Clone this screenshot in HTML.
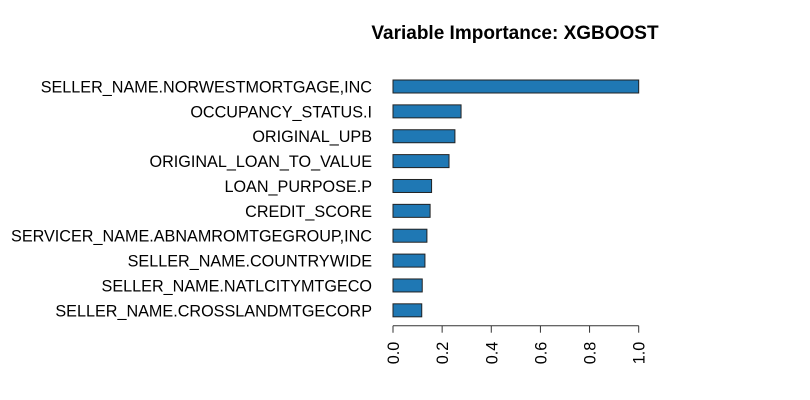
<!DOCTYPE html>
<html><head><meta charset="utf-8"><style>
html,body{margin:0;padding:0;background:#fff;}
svg{display:block;font-family:"Liberation Sans",Arial,sans-serif;}
</style></head><body>
<svg id="chart" width="810" height="400">
<text x="515" y="39" text-anchor="middle" font-weight="bold" font-size="19">Variable Importance: XGBOOST</text>
<g id="bars"></g>
<g id="labels"></g>
<g id="axis"></g>
</svg>
<script>
const categories = ["SELLER_NAME.NORWESTMORTGAGE,INC","OCCUPANCY_STATUS.I","ORIGINAL_UPB","ORIGINAL_LOAN_TO_VALUE","LOAN_PURPOSE.P","CREDIT_SCORE","SERVICER_NAME.ABNAMROMTGEGROUP,INC","SELLER_NAME.COUNTRYWIDE","SELLER_NAME.NATLCITYMTGECO","SELLER_NAME.CROSSLANDMTGECORP"];
const values = [1.0,0.277,0.252,0.228,0.157,0.151,0.138,0.130,0.119,0.117];
const tickValues = [0,0.2,0.4,0.6,0.8,1.0];
const tickLabels = ["0.0","0.2","0.4","0.6","0.8","1.0"];
const NS="http://www.w3.org/2000/svg";
const x0=393,x1=638.7;
function xs(v){return x0+(v-0)/(1-0)*(x1-x0);}
const yFirst=86.5,yStep=24.87,bh=13;
function ys(i){return yFirst+i*yStep;}
const gb=document.getElementById('bars'),gl=document.getElementById('labels'),ga=document.getElementById('axis');
categories.forEach((c,i)=>{
  const r=document.createElementNS(NS,'rect');
  r.setAttribute('x',xs(0));r.setAttribute('y',ys(i)-bh/2);
  r.setAttribute('width',xs(values[i])-xs(0));r.setAttribute('height',bh);
  r.setAttribute('fill','#1f78b4');r.setAttribute('stroke','#222');r.setAttribute('stroke-width','1');
  
  
  gb.appendChild(r);
  const t=document.createElementNS(NS,'text');
  t.setAttribute('x',372);t.setAttribute('y',ys(i)+6);t.setAttribute('text-anchor','end');t.setAttribute('font-size','16.2');
  t.textContent=c;
  
  
  gl.appendChild(t);
});
const ay=325.7;
const line=document.createElementNS(NS,'line');
line.setAttribute('x1',xs(tickValues[0]));line.setAttribute('x2',xs(tickValues[tickValues.length-1]));
line.setAttribute('y1',ay);line.setAttribute('y2',ay);line.setAttribute('stroke','#333');


ga.appendChild(line);
tickValues.forEach((v,i)=>{
  const l=document.createElementNS(NS,'line');
  l.setAttribute('x1',xs(v));l.setAttribute('x2',xs(v));l.setAttribute('y1',ay);l.setAttribute('y2',ay+7);l.setAttribute('stroke','#333');
  
  
  ga.appendChild(l);
  const t=document.createElementNS(NS,'text');
  const tx=xs(v)+6,ty=ay+16;
  t.setAttribute('x',tx);t.setAttribute('y',ty);t.setAttribute('text-anchor','end');t.setAttribute('font-size','16.2');
  t.setAttribute('transform','rotate(-90 '+tx+' '+ty+')');
  t.textContent=tickLabels[i];
  
  
  ga.appendChild(t);
});
</script>
</body></html>
